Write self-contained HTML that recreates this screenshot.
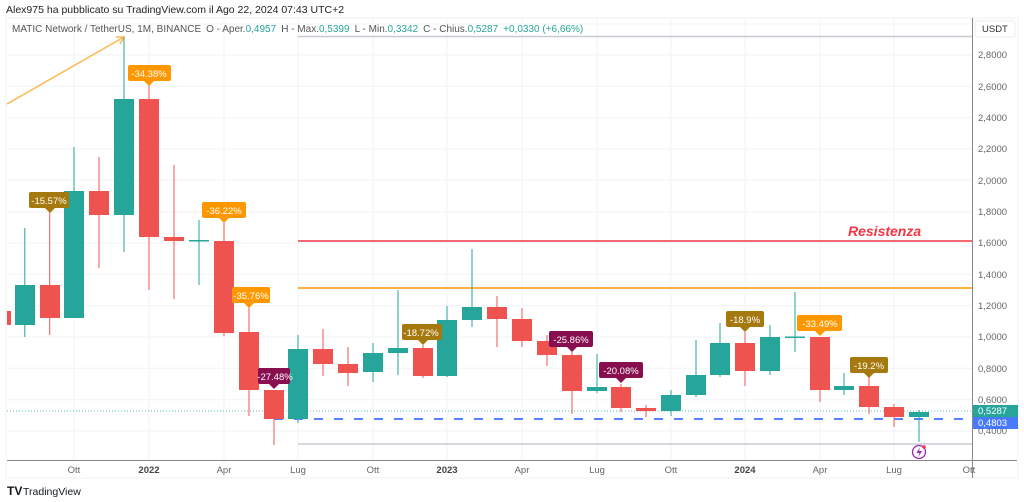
<!DOCTYPE html>
<html><head><meta charset="utf-8"><style>
body{margin:0;background:#fff;width:1024px;height:502px;overflow:hidden;font-family:"Liberation Sans",sans-serif}
svg{position:absolute;left:0;top:0}
</style></head><body>
<svg width="1024" height="502" viewBox="0 0 1024 502" font-family="Liberation Sans, sans-serif">
<text x="6" y="13" font-size="10.5" fill="#222">Alex975 ha pubblicato su TradingView.com il Ago 22, 2024 07:43 UTC+2</text>
<rect x="6" y="18" width="1012" height="460" fill="none" stroke="#f0f2f5"/>
<g stroke="#f0f3f6" stroke-width="1">
<line x1="7" y1="24" x2="972" y2="24"/>
<line x1="7" y1="55" x2="972" y2="55"/><line x1="7" y1="86.3" x2="972" y2="86.3"/><line x1="7" y1="117.7" x2="972" y2="117.7"/><line x1="7" y1="149" x2="972" y2="149"/><line x1="7" y1="180.3" x2="972" y2="180.3"/><line x1="7" y1="211.7" x2="972" y2="211.7"/><line x1="7" y1="243" x2="972" y2="243"/><line x1="7" y1="274.3" x2="972" y2="274.3"/><line x1="7" y1="305.7" x2="972" y2="305.7"/><line x1="7" y1="337" x2="972" y2="337"/><line x1="7" y1="368.3" x2="972" y2="368.3"/><line x1="7" y1="399.7" x2="972" y2="399.7"/><line x1="7" y1="431" x2="972" y2="431"/>
<line x1="74" y1="18" x2="74" y2="460"/><line x1="149" y1="18" x2="149" y2="460"/><line x1="224" y1="18" x2="224" y2="460"/><line x1="298" y1="18" x2="298" y2="460"/><line x1="373" y1="18" x2="373" y2="460"/><line x1="447" y1="18" x2="447" y2="460"/><line x1="522" y1="18" x2="522" y2="460"/><line x1="597" y1="18" x2="597" y2="460"/><line x1="671" y1="18" x2="671" y2="460"/><line x1="745" y1="18" x2="745" y2="460"/><line x1="820" y1="18" x2="820" y2="460"/><line x1="894" y1="18" x2="894" y2="460"/>
</g>
<text x="12" y="32" font-size="10" fill="#555">MATIC Network / TetherUS, 1M, BINANCE<tspan dx="5">O - Aper.</tspan><tspan fill="#26a69a">0,4957</tspan><tspan dx="5">H - Max.</tspan><tspan fill="#26a69a">0,5399</tspan><tspan dx="5">L - Min.</tspan><tspan fill="#26a69a">0,3342</tspan><tspan dx="5">C - Chius.</tspan><tspan fill="#26a69a">0,5287</tspan><tspan dx="5" fill="#26a69a">+0,0330 (+6,66%)</tspan></text>
<line x1="298" y1="36.5" x2="972" y2="36.5" stroke="#c9ccd3" stroke-width="1.5"/>
<line x1="298" y1="444" x2="972" y2="444" stroke="#c9ccd3" stroke-width="1.5"/>
<line x1="298" y1="241" x2="972" y2="241" stroke="#f23645" stroke-width="1.5"/>
<line x1="298" y1="288" x2="972" y2="288" stroke="#ff9800" stroke-width="1.5"/>
<line x1="7" y1="411" x2="972" y2="411" stroke="#26a69a" stroke-width="0.8" stroke-dasharray="1,2"/>
<line x1="274" y1="419" x2="972" y2="419" stroke="#2962ff" stroke-opacity="0.8" stroke-width="2" stroke-dasharray="9,11"/>
<text x="848" y="236" font-size="14" font-weight="bold" font-style="italic" fill="#f23645">Resistenza</text>
<line x1="7" y1="104" x2="124" y2="37" stroke="#ffb74d" stroke-width="1.5"/>
<path d="M116,37 L124,37 L120,44" fill="none" stroke="#ffb74d" stroke-width="1.5"/>
<g stroke-width="1">
<rect x="7" y="311" width="4" height="14" fill="#ef5350"/>
<line x1="24.8" y1="228" x2="24.8" y2="337" stroke="#26a69a"/><rect x="15" y="285" width="20" height="40" fill="#26a69a"/>
<line x1="49.7" y1="212" x2="49.7" y2="335" stroke="#ef5350"/><rect x="40" y="285" width="20" height="33" fill="#ef5350"/>
<line x1="74" y1="147" x2="74" y2="318" stroke="#26a69a"/><rect x="64" y="191" width="20" height="127" fill="#26a69a"/>
<line x1="99" y1="157" x2="99" y2="268" stroke="#ef5350"/><rect x="89" y="191" width="20" height="24" fill="#ef5350"/>
<line x1="124" y1="37" x2="124" y2="252" stroke="#26a69a"/><rect x="114" y="99" width="20" height="116" fill="#26a69a"/>
<line x1="149" y1="85" x2="149" y2="290" stroke="#ef5350"/><rect x="139" y="99" width="20" height="138" fill="#ef5350"/>
<line x1="174" y1="165" x2="174" y2="299" stroke="#ef5350"/><rect x="164" y="237" width="20" height="4" fill="#ef5350"/>
<line x1="199" y1="220" x2="199" y2="285" stroke="#26a69a"/><rect x="189" y="240" width="20" height="1.5" fill="#26a69a"/>
<line x1="224" y1="220" x2="224" y2="336" stroke="#ef5350"/><rect x="214" y="241" width="20" height="92" fill="#ef5350"/>
<line x1="249" y1="307" x2="249" y2="416" stroke="#ef5350"/><rect x="239" y="332" width="20" height="58" fill="#ef5350"/>
<line x1="274" y1="390" x2="274" y2="445" stroke="#ef5350"/><rect x="264" y="390" width="20" height="29" fill="#ef5350"/>
<line x1="298" y1="335" x2="298" y2="423" stroke="#26a69a"/><rect x="288" y="349" width="20" height="70" fill="#26a69a"/>
<line x1="323" y1="329" x2="323" y2="376" stroke="#ef5350"/><rect x="313" y="349" width="20" height="15" fill="#ef5350"/>
<line x1="348" y1="347" x2="348" y2="386" stroke="#ef5350"/><rect x="338" y="364" width="20" height="9" fill="#ef5350"/>
<line x1="373" y1="343" x2="373" y2="382" stroke="#26a69a"/><rect x="363" y="353" width="20" height="19" fill="#26a69a"/>
<line x1="398" y1="290" x2="398" y2="375" stroke="#26a69a"/><rect x="388" y="348" width="20" height="5" fill="#26a69a"/>
<line x1="423" y1="345" x2="423" y2="378" stroke="#ef5350"/><rect x="413" y="348" width="20" height="28" fill="#ef5350"/>
<line x1="447" y1="306" x2="447" y2="377" stroke="#26a69a"/><rect x="437" y="320" width="20" height="56" fill="#26a69a"/>
<line x1="472" y1="249" x2="472" y2="327" stroke="#26a69a"/><rect x="462" y="307" width="20" height="13" fill="#26a69a"/>
<line x1="497" y1="296" x2="497" y2="347" stroke="#ef5350"/><rect x="487" y="307" width="20" height="12" fill="#ef5350"/>
<line x1="522" y1="308" x2="522" y2="347" stroke="#ef5350"/><rect x="512" y="319" width="20" height="22" fill="#ef5350"/>
<line x1="547" y1="335" x2="547" y2="366" stroke="#ef5350"/><rect x="537" y="341" width="20" height="14" fill="#ef5350"/>
<line x1="572" y1="341" x2="572" y2="414" stroke="#ef5350"/><rect x="562" y="355" width="20" height="36" fill="#ef5350"/>
<line x1="597" y1="354" x2="597" y2="393" stroke="#26a69a"/><rect x="587" y="387" width="20" height="4" fill="#26a69a"/>
<line x1="621" y1="384" x2="621" y2="412" stroke="#ef5350"/><rect x="611" y="387" width="20" height="21" fill="#ef5350"/>
<line x1="646" y1="405" x2="646" y2="417" stroke="#ef5350"/><rect x="636" y="408" width="20" height="3" fill="#ef5350"/>
<line x1="671" y1="390" x2="671" y2="416" stroke="#26a69a"/><rect x="661" y="395" width="20" height="16" fill="#26a69a"/>
<line x1="696" y1="340" x2="696" y2="397" stroke="#26a69a"/><rect x="686" y="375" width="20" height="20" fill="#26a69a"/>
<line x1="720" y1="323" x2="720" y2="377" stroke="#26a69a"/><rect x="710" y="343" width="20" height="32" fill="#26a69a"/>
<line x1="745" y1="332" x2="745" y2="386" stroke="#ef5350"/><rect x="735" y="343" width="20" height="28" fill="#ef5350"/>
<line x1="770" y1="325" x2="770" y2="375" stroke="#26a69a"/><rect x="760" y="337" width="20" height="34" fill="#26a69a"/>
<line x1="795" y1="292" x2="795" y2="352" stroke="#26a69a"/><rect x="785" y="336.5" width="20" height="1.5" fill="#26a69a"/>
<line x1="820" y1="337" x2="820" y2="402" stroke="#ef5350"/><rect x="810" y="337" width="20" height="53" fill="#ef5350"/>
<line x1="844" y1="373" x2="844" y2="395" stroke="#26a69a"/><rect x="834" y="386" width="20" height="4" fill="#26a69a"/>
<line x1="869" y1="377" x2="869" y2="414" stroke="#ef5350"/><rect x="859" y="386" width="20" height="21" fill="#ef5350"/>
<line x1="894" y1="404" x2="894" y2="427" stroke="#ef5350"/><rect x="884" y="407" width="20" height="10" fill="#ef5350"/>
<line x1="919" y1="410" x2="919" y2="442" stroke="#26a69a"/><rect x="909" y="412" width="20" height="5" fill="#26a69a"/>
</g>
<g font-size="9.5" fill="#fff" text-anchor="middle">
<rect x="29" y="192" width="40" height="16" rx="2" fill="#a5790d"/><path d="M45,208 L50,213 L55,208Z" fill="#a5790d"/><text x="49" y="204">-15.57%</text>
<rect x="128" y="65" width="43" height="16" rx="2" fill="#ff9800"/><path d="M144,81 L149,86 L154,81Z" fill="#ff9800"/><text x="149" y="77">-34.38%</text>
<rect x="202" y="202" width="44" height="16" rx="2" fill="#ff9800"/><path d="M219,218 L224,223 L229,218Z" fill="#ff9800"/><text x="224" y="214">-36.22%</text>
<rect x="232" y="287" width="38" height="16" rx="2" fill="#ff9800"/><path d="M244,303 L249,308 L254,303Z" fill="#ff9800"/><text x="251" y="299">-35.76%</text>
<rect x="258" y="368" width="32" height="16" rx="2" fill="#880e4f"/><path d="M269,384 L274,389 L279,384Z" fill="#880e4f"/><text x="275" y="380">-27.48%</text>
<rect x="402" y="324" width="40" height="16" rx="2" fill="#a5790d"/><path d="M418,340 L423,345 L428,340Z" fill="#a5790d"/><text x="421" y="336">-18.72%</text>
<rect x="549" y="331" width="44" height="16" rx="2" fill="#880e4f"/><path d="M567,347 L572,352 L577,347Z" fill="#880e4f"/><text x="571" y="343">-25.86%</text>
<rect x="599" y="362" width="44" height="16" rx="2" fill="#880e4f"/><path d="M616,378 L621,383 L626,378Z" fill="#880e4f"/><text x="621" y="374">-20.08%</text>
<rect x="726" y="311" width="38" height="16" rx="2" fill="#a5790d"/><path d="M740,327 L745,332 L750,327Z" fill="#a5790d"/><text x="745" y="323">-18.9%</text>
<rect x="797" y="315" width="45" height="16" rx="2" fill="#ff9800"/><path d="M815,331 L820,336 L825,331Z" fill="#ff9800"/><text x="820" y="327">-33.49%</text>
<rect x="850" y="357" width="38" height="16" rx="2" fill="#a5790d"/><path d="M864,373 L869,378 L874,373Z" fill="#a5790d"/><text x="869" y="369">-19.2%</text>
</g>
<circle cx="919" cy="452" r="6.5" fill="none" stroke="#9c27b0" stroke-width="1.3"/>
<path d="M920,447 L916.5,453 L919.5,453 L918,457.5 L922,451 L919,451Z" fill="#9c27b0"/>
<circle cx="924" cy="447" r="1.8" fill="#f23645"/>
<line x1="972.5" y1="18" x2="972.5" y2="478" stroke="#888" stroke-width="1"/>
<line x1="7" y1="460.5" x2="1017" y2="460.5" stroke="#888" stroke-width="1"/>
<rect x="975" y="21" width="40" height="16" rx="3" fill="#fff" stroke="#eee"/>
<text x="982" y="32" font-size="9.5" fill="#333">USDT</text>
<g font-size="9.5" fill="#666">
<text x="978" y="58">2,8000</text><text x="978" y="90">2,6000</text><text x="978" y="121">2,4000</text><text x="978" y="152">2,2000</text><text x="978" y="184">2,0000</text><text x="978" y="215">1,8000</text><text x="978" y="246">1,6000</text><text x="978" y="278">1,4000</text><text x="978" y="309">1,2000</text><text x="978" y="340">1,0000</text><text x="978" y="372">0,8000</text><text x="978" y="403">0,6000</text><text x="978" y="434">0,4000</text>
</g>
<rect x="973" y="405" width="45" height="12" fill="#26a69a"/><text x="978" y="414" font-size="9.5" fill="#fff">0,5287</text>
<rect x="973" y="417" width="45" height="12" fill="#2962ff" fill-opacity="0.85"/><text x="978" y="426" font-size="9.5" fill="#fff">0,4803</text>
<g font-size="9.5" fill="#666" text-anchor="middle">
<text x="74" y="473">Ott</text><text x="149" y="473" font-weight="bold" fill="#444">2022</text><text x="224" y="473">Apr</text><text x="298" y="473">Lug</text><text x="373" y="473">Ott</text><text x="447" y="473" font-weight="bold" fill="#444">2023</text><text x="522" y="473">Apr</text><text x="597" y="473">Lug</text><text x="671" y="473">Ott</text><text x="745" y="473" font-weight="bold" fill="#444">2024</text><text x="820" y="473">Apr</text><text x="894" y="473">Lug</text><text x="969" y="473">Ott</text>
</g>
<text x="7" y="495" font-size="12" font-weight="bold" fill="#131722">TV</text>
<text x="23" y="495" font-size="10.5" fill="#131722">TradingView</text>
</svg>
</body></html>
